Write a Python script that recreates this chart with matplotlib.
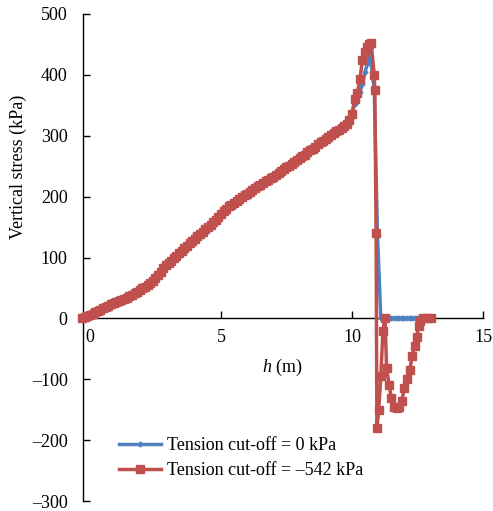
import numpy as np
import matplotlib
matplotlib.use("Agg")
import matplotlib.pyplot as plt

plt.rcParams['font.family'] = ['Liberation Serif', 'DejaVu Serif']
plt.rcParams['font.size'] = 13
plt.rcParams['mathtext.fontset'] = 'custom'
plt.rcParams['mathtext.it'] = 'Liberation Serif:italic'
plt.rcParams['mathtext.rm'] = 'Liberation Serif'

# depth h (m) and vertical stress (kPa)
h_common = [-0.3, -0.2, -0.1, 0.0, 0.1, 0.2, 0.3, 0.4, 0.5, 0.6, 0.7, 0.8, 0.9,
            1.0, 1.1, 1.2, 1.3, 1.4, 1.5, 1.6, 1.7, 1.8, 1.9,
            2.0, 2.1, 2.2, 2.3, 2.4, 2.5, 2.6, 2.7, 2.8, 2.9,
            3.0, 3.1, 3.2, 3.3, 3.4, 3.5, 3.6, 3.7, 3.8, 3.9,
            4.0, 4.1, 4.2, 4.3, 4.4, 4.5, 4.6, 4.7, 4.8, 4.9,
            5.0, 5.1, 5.2, 5.3, 5.4, 5.5, 5.6, 5.7, 5.8, 5.9,
            6.0, 6.1, 6.2, 6.3, 6.4, 6.5, 6.6, 6.7, 6.8, 6.9,
            7.0, 7.1, 7.2, 7.3, 7.4, 7.5, 7.6, 7.7, 7.8, 7.9,
            8.0, 8.1, 8.2, 8.3, 8.4, 8.5, 8.6, 8.7, 8.8, 8.9,
            9.0, 9.1, 9.2, 9.3, 9.4, 9.5, 9.6, 9.7, 9.8, 9.9, 10.0]
s_common = [0, 2, 4, 6, 8, 10, 12, 14, 17, 19, 21, 23, 25,
            27, 29, 31, 32, 34, 37, 39, 42, 44, 47,
            50, 52, 55, 58, 62, 67, 72, 77, 82, 87,
            91, 95, 99, 103, 107, 111, 115, 119, 123, 127,
            131, 135, 139, 142, 146, 150, 154, 158, 162, 167,
            171, 176, 180, 184, 187, 190, 193, 196, 199, 202,
            205, 208, 211, 214, 217, 219, 222, 225, 228, 230,
            233, 236, 239, 242, 245, 248, 251, 254, 257, 260,
            263, 266, 269, 273, 276, 279, 282, 286, 289, 292,
            295, 298, 301, 304, 307, 310, 313, 316, 320, 326, 336]

h_blue_tail = [10.1, 10.2, 10.3, 10.4, 10.5, 10.6, 10.69, 10.85, 10.97, 11.1,
               11.2, 11.3, 11.4, 11.5, 11.6, 11.7, 11.8, 11.9, 12.0, 12.1, 12.2,
               12.3, 12.4, 12.5, 12.6, 12.66]
s_blue_tail = [352, 358, 372, 385, 405, 420, 434, 375, 140, 0,
               0, 0, 0, 0, 0, 0, 0, 0, 0, 0, 0,
               0, 0, 0, 0, 0]

h_red_tail = [10.1, 10.2, 10.3, 10.4, 10.48, 10.56, 10.65, 10.73, 10.85, 10.87,
              10.92, 10.95, 11.02, 11.1, 11.18, 11.26, 11.32, 11.42, 11.5, 11.6,
              11.7, 11.8, 11.9, 12.0, 12.1, 12.2, 12.3, 12.4, 12.47, 12.55,
              12.6, 12.7, 12.85, 13.0]
s_red_tail = [360, 370, 393, 425, 437, 445, 450, 452, 400, 375,
              140, -180, -150, -95, -20, 0, -82, -110, -131, -145,
              -147, -145, -135, -115, -100, -85, -62, -45, -30, -12,
              -5, 0, 0, 0]

h_blue = h_common + h_blue_tail
s_blue = s_common + s_blue_tail
h_red = h_common + h_red_tail
s_red = s_common + s_red_tail

fig = plt.figure(figsize=(4.93, 5.11), dpi=100)
ax = fig.add_axes([83 / 493, 1 - 501 / 511, 400 / 493, 487 / 511])

ax.plot(h_blue, s_blue, color='#4F81BD', lw=2.5, marker='D', ms=2.5,
        label='Tension cut-off = 0 kPa', clip_on=False, zorder=3)
ax.plot(h_red, s_red, color='#C0504D', lw=2.5, marker='s', ms=5.5,
        label='Tension cut-off = \u2013542 kPa', clip_on=False, zorder=4)

ax.set_xlim(-0.267, 15)
ax.set_ylim(-300, 500)
ax.set_xticks([0, 5, 10, 15])
ax.set_yticks(np.arange(-300, 501, 100))
ax.set_yticklabels([str(v).replace('-', '\u2013') for v in range(-300, 501, 100)])

ax.spines['top'].set_visible(False)
ax.spines['right'].set_visible(False)
ax.spines['bottom'].set_position(('data', 0))
for sp in ['left', 'bottom']:
    ax.spines[sp].set_linewidth(1.0)

ax.tick_params(axis='both', direction='in', length=5, width=1)
ax.tick_params(axis='y', pad=11)
ax.tick_params(axis='x', pad=8)

fig.text(18 / 493, 1 - 167 / 511, 'Vertical stress (kPa)', rotation=90,
         ha='center', va='center')
fig.text(282 / 493, 1 - 367 / 511, r'$h$ (m)', ha='center', va='center')

ax.legend(loc='upper left', bbox_to_anchor=(119 / 493, 1 - 437 / 511),
          bbox_transform=fig.transFigure, frameon=False, handlelength=2.3,
          handletextpad=0.35, labelspacing=0.45, borderaxespad=0, borderpad=0)

fig.savefig('out.png', dpi=100)
